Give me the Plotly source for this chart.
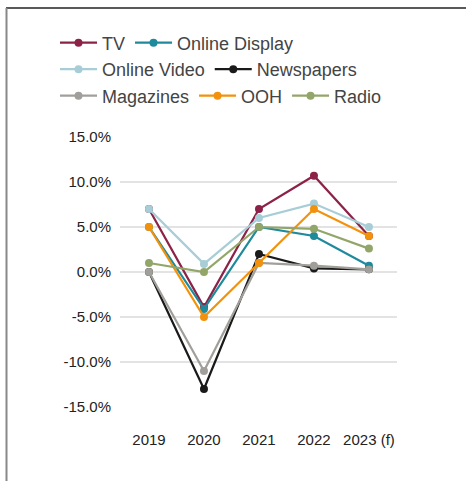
import plotly.graph_objects as go

# Year-on-year ad spend growth by medium (%)
years = ["2019", "2020", "2021", "2022", "2023 (f)"]
tv = [7.0, -3.9, 7.0, 10.7, 4.0]
online_display = [5.0, -4.1, 5.0, 4.0, 0.7]
online_video = [7.0, 0.9, 6.0, 7.6, 5.0]
newspapers = [0.0, -13.0, 2.0, 0.4, 0.3]
magazines = [0.0, -11.0, 1.0, 0.7, 0.3]
ooh = [5.0, -5.0, 1.0, 7.0, 4.0]
radio = [1.0, 0.0, 5.0, 4.8, 2.6]

y_ticks = [-15, -10, -5, 0, 5, 10, 15]
y_tick_text = ["-15.0%", "-10.0%", "-5.0%", "0.0%", "5.0%", "10.0%", "15.0%"]

series = [
    ("TV", tv, "#8C2248", "legend"),
    ("Online Display", online_display, "#1E8A9C", "legend"),
    ("Online Video", online_video, "#A7CDD7", "legend2"),
    ("Newspapers", newspapers, "#1A1A1A", "legend2"),
    ("Magazines", magazines, "#A19F9A", "legend3"),
    ("OOH", ooh, "#F2920C", "legend3"),
    ("Radio", radio, "#93A66A", "legend3"),
]

FONT = "Liberation Sans, Arial, sans-serif"

fig = go.Figure()
for name, vals, color, leg in series:
    fig.add_trace(go.Scatter(
        x=years, y=vals, name=name, mode="lines+markers",
        line=dict(color=color, width=2.2),
        marker=dict(color=color, size=8),
        legend=leg,
    ))

W, H = 466, 481
L, R, T, B = 120, 69, 137, 74
plot_w = W - L - R
plot_h = H - T - B


def px_x(p):
    return (p - L) / plot_w


def px_y(p):
    return (H - B - p) / plot_h


legend_common = dict(
    orientation="h", xanchor="left", yanchor="middle",
    font=dict(family=FONT, size=18, color="#444444"),
    bgcolor="rgba(0,0,0,0)", itemwidth=37, tracegroupgap=0,
)

fig.update_layout(
    width=W, height=H,
    margin=dict(l=L, r=R, t=T, b=B),
    paper_bgcolor="white", plot_bgcolor="white",
    showlegend=True,
    legend=dict(x=px_x(55), y=px_y(43), **legend_common),
    legend2=dict(x=px_x(55), y=px_y(69.5), **legend_common),
    legend3=dict(x=px_x(55), y=px_y(96), **legend_common),
    xaxis=dict(
        type="category", range=[-0.527, 4.51],
        showgrid=False, zeroline=False, showline=False, ticks="",
        tickfont=dict(family=FONT, size=15, color="#222222"),
        ticklabelstandoff=22,
    ),
    yaxis=dict(
        range=[-15, 15], tickvals=y_ticks, ticktext=y_tick_text,
        showgrid=True, gridcolor="#E3E3E3", gridwidth=1.5,
        zeroline=False, showline=False, ticks="",
        tickfont=dict(family=FONT, size=15, color="#222222"),
        ticklabelstandoff=8,
    ),
    shapes=[
        dict(type="line", xref="paper", yref="paper",
             x0=px_x(6), x1=px_x(W + 2), y0=px_y(8), y1=px_y(8),
             line=dict(color="#222222", width=1.5)),
        dict(type="line", xref="paper", yref="paper",
             x0=px_x(6.5), x1=px_x(6.5), y0=px_y(8), y1=px_y(H + 2),
             line=dict(color="#888888", width=2)),
    ],
)

fig.write_html("out.html")
